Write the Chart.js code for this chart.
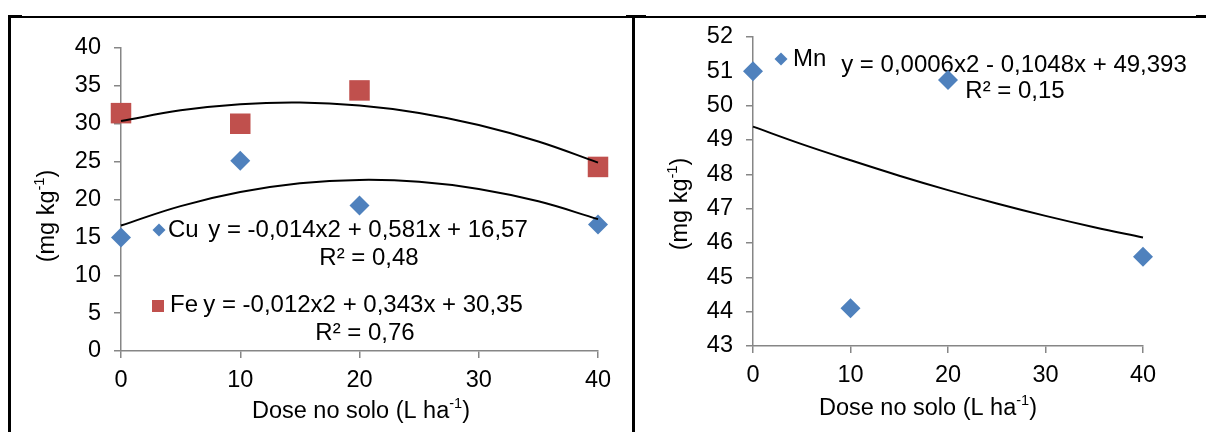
<!DOCTYPE html>
<html>
<head>
<meta charset="utf-8">
<script src="https://cdn.jsdelivr.net/npm/chart.js@4/dist/chart.umd.min.js"></script>
<style>
  body { margin: 0; background: #fff; }
  #wrap { position: relative; width: 1206px; height: 432px; overflow: hidden; background: #fff; }
  canvas { position: absolute; top: 0; }
  .ln { position: absolute; background: #000; }
</style>
</head>
<body>
<div id="wrap">
  <canvas id="left-chart" width="632" height="432" style="left:0;width:632px;height:432px"></canvas>
  <canvas id="right-chart" width="574" height="432" style="left:632px;width:574px;height:432px"></canvas>
  <!-- table borders round the two figures -->
  <div class="ln" style="left:8px;top:16px;width:1198px;height:1.5px"></div>
  <div class="ln" style="left:8px;top:15px;width:14px;height:3px"></div>
  <div class="ln" style="left:626px;top:15px;width:20px;height:3px"></div>
  <div class="ln" style="left:1196px;top:15px;width:10px;height:3px"></div>
  <div class="ln" style="left:8px;top:15px;width:2.5px;height:417px"></div>
  <div class="ln" style="left:632px;top:15px;width:2.5px;height:417px"></div>
</div>
<script>
// Doses and measured values
const doses = [0, 10, 20, 40];
const cuValues = [15.0, 25.1, 19.2, 16.7];
const feValues = [31.4, 30.0, 34.4, 24.3];
const mnValues = [51.0, 44.1, 50.75, 45.6];

// Trendline values
const trendDoses = [0, 5, 10, 15, 20, 25, 30, 35, 40];
const cuTrend = [16.57, 19.13, 20.98, 22.14, 22.59, 22.35, 21.40, 19.76, 17.41];
const feTrend = [30.35, 31.77, 32.58, 32.80, 32.41, 31.43, 29.84, 27.66, 24.87];
const mnTrend = [49.39, 48.88, 48.41, 47.96, 47.54, 47.15, 46.79, 46.46, 46.16];

// Labels
const cuLabel = ['Cu', 'y = -0,014x2 + 0,581x + 16,57', 'R² = 0,48'];
const feLabel = ['Fe', 'y = -0,012x2 + 0,343x + 30,35', 'R² = 0,76'];
const mnLabel = ['Mn', 'y = 0,0006x2 - 0,1048x + 49,393', 'R² = 0,15'];
const yTitle = ['(mg kg', '-1', ')'];
const xTitle = ['Dose no solo (L ha', '-1', ')'];

const FONT = '"Liberation Sans", Arial, sans-serif';
const BLUE = '#4F81BD';
const RED = '#C0504D';
const AXIS = '#868686';

function pts(xs, ys) {
  return xs.map((x, i) => ({ x: x, y: ys[i] }));
}

function font(size) {
  return size + 'px ' + FONT;
}

// text with a superscript piece, centred on (x, y)
function drawRich(ctx, parts, x, y, size, rotate) {
  ctx.save();
  ctx.translate(x, y);
  if (rotate) ctx.rotate(-Math.PI / 2);
  ctx.textBaseline = 'middle';
  ctx.textAlign = 'left';
  const sizes = parts.map((p, i) => (i === 1 ? size * 0.62 : size));
  const widths = parts.map((p, i) => {
    ctx.font = font(sizes[i]);
    return ctx.measureText(p).width;
  });
  let cx = -widths.reduce((a, b) => a + b, 0) / 2;
  parts.forEach((p, i) => {
    ctx.font = font(sizes[i]);
    ctx.fillText(p, cx, i === 1 ? -size * 0.33 : 0);
    cx += widths[i];
  });
  ctx.restore();
}

function marker(ctx, style, x, y, r, color) {
  ctx.save();
  ctx.fillStyle = color;
  ctx.beginPath();
  if (style === 'diamond') {
    ctx.moveTo(x, y - r);
    ctx.lineTo(x + r, y);
    ctx.lineTo(x, y + r);
    ctx.lineTo(x - r, y);
  } else {
    ctx.rect(x - r, y - r, 2 * r, 2 * r);
  }
  ctx.closePath();
  ctx.fill();
  ctx.restore();
}

// Draws the in-plot legends, equations and axis titles
const textPlugin = {
  id: 'textPlugin',
  beforeDatasetsDraw(chart, args, opts) {
    const ctx = chart.ctx;
    ctx.save();
    ctx.fillStyle = '#000';
    opts.entries.forEach((e) => {
      marker(ctx, e.marker, e.mx, e.my, e.mr, e.color);
      ctx.font = font(24);
      ctx.textBaseline = 'alphabetic';
      ctx.textAlign = 'left';
      ctx.fillText(e.label[0], e.nameX, e.line1Y);
      ctx.textAlign = 'center';
      ctx.fillText(e.label[1], e.eqX, e.eqY);
      ctx.fillText(e.label[2], e.r2X, e.r2Y);
    });
    drawRich(ctx, yTitle, opts.yTitleX, opts.yTitleY, 23.5, true);
    drawRich(ctx, xTitle, opts.xTitleX, opts.xTitleY, 23.5, false);
    ctx.restore();
  }
};

function scales(yMin, yMax, yStep, xHeight) {
  const tickFont = { family: FONT, size: 23.5 };
  return {
    x: {
      type: 'linear', min: 0, max: 40,
      ticks: { stepSize: 10, color: '#000', font: tickFont, padding: 8, maxRotation: 0 },
      grid: { drawOnChartArea: false, tickLength: 7, color: AXIS, lineWidth: 1.5 },
      border: { color: AXIS, width: 1.5 },
      afterFit: (s) => { s.height = xHeight; }
    },
    y: {
      type: 'linear', min: yMin, max: yMax,
      ticks: { stepSize: yStep, color: '#000', font: tickFont, padding: 13 },
      grid: { drawOnChartArea: false, tickLength: 7, color: AXIS, lineWidth: 1.5 },
      border: { color: AXIS, width: 1.5 },
      afterFit: (s) => { s.width = 121; }
    }
  };
}

function trendSet(values) {
  return {
    type: 'line', data: pts(trendDoses, values), borderColor: '#000', borderWidth: 2,
    pointRadius: 0, tension: 0.4, fill: false, clip: false, order: 0
  };
}

function pointSet(values, style, radius, color) {
  return {
    type: 'scatter', data: pts(doses, values), pointStyle: style, pointRadius: radius,
    pointHoverRadius: radius, backgroundColor: color, borderColor: color, borderWidth: 0,
    clip: false, order: 1
  };
}

const common = {
  responsive: false,
  animation: false,
  events: [],
  plugins: { legend: { display: false }, tooltip: { enabled: false } }
};

new Chart(document.getElementById('left-chart'), {
  data: {
    datasets: [
      trendSet(feTrend),
      trendSet(cuTrend),
      pointSet(feValues, 'rect', 14.5, RED),
      pointSet(cuValues, 'rectRot', 10, BLUE)
    ]
  },
  options: {
    ...common,
    layout: { padding: { top: 48, left: 0, right: 34, bottom: 0 } },
    scales: scales(0, 40, 5, 81),
    plugins: {
      ...common.plugins,
      textPlugin: {
        entries: [
          { label: cuLabel, marker: 'diamond', mx: 159, my: 230, mr: 6.5, color: BLUE,
            nameX: 168, line1Y: 237, eqX: 368, eqY: 237, r2X: 369, r2Y: 265 },
          { label: feLabel, marker: 'square', mx: 158, my: 306, mr: 6, color: RED,
            nameX: 170, line1Y: 312, eqX: 363, eqY: 312, r2X: 365, r2Y: 340 }
        ],
        yTitleX: 48, yTitleY: 216,
        xTitleX: 361, xTitleY: 412
      }
    }
  },
  plugins: [textPlugin]
});

new Chart(document.getElementById('right-chart'), {
  data: {
    datasets: [
      trendSet(mnTrend),
      pointSet(mnValues, 'rectRot', 10, BLUE)
    ]
  },
  options: {
    ...common,
    layout: { padding: { top: 37, left: 0, right: 63, bottom: 0 } },
    scales: scales(43, 52, 1, 86),
    plugins: {
      ...common.plugins,
      textPlugin: {
        entries: [
          { label: mnLabel, marker: 'diamond', mx: 149, my: 59, mr: 6.5, color: BLUE,
            nameX: 161, line1Y: 66, eqX: 382, eqY: 72, r2X: 383, r2Y: 98 }
        ],
        yTitleX: 49, yTitleY: 204,
        xTitleX: 296, xTitleY: 409
      }
    }
  },
  plugins: [textPlugin]
});
</script>
</body>
</html>
